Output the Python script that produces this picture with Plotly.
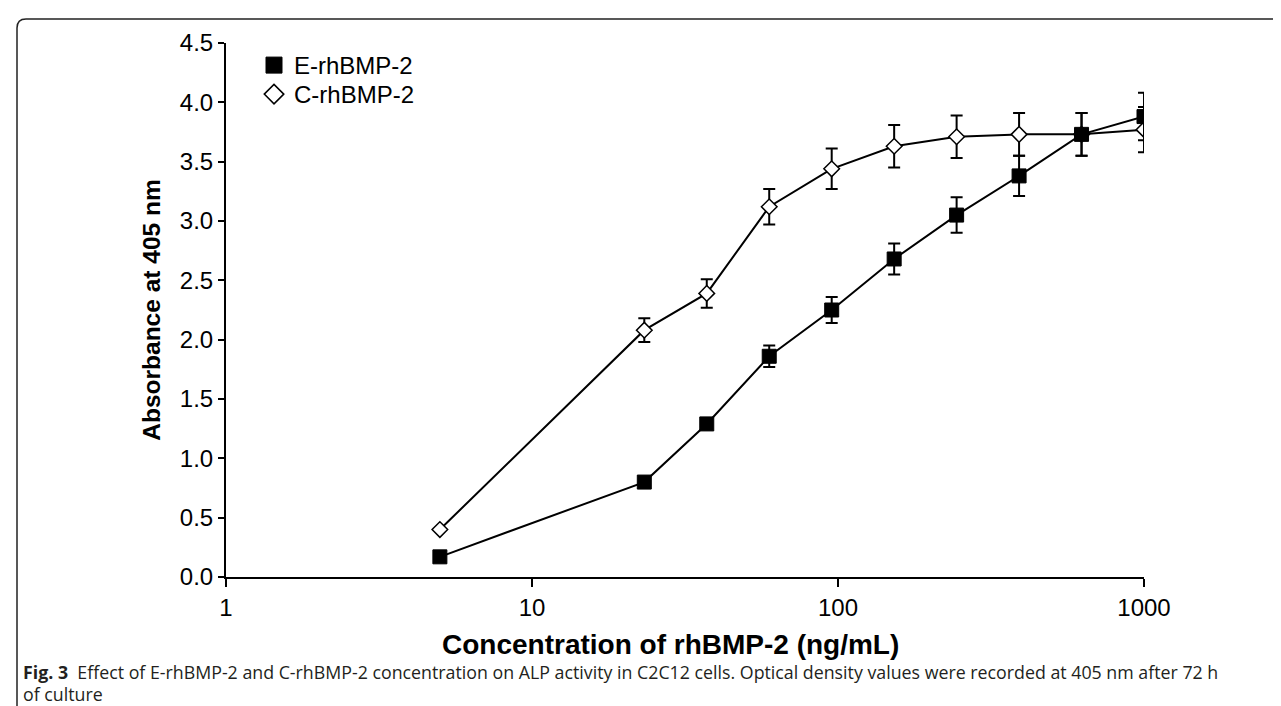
import plotly.graph_objects as go

# ---- data ----
conc = [5, 23.28, 37.25, 59.6, 95.37, 152.59, 244.14, 390.63, 625, 1000]
e_vals = [0.17, 0.80, 1.29, 1.86, 2.25, 2.68, 3.05, 3.38, 3.73, 3.88]
e_err = [0, 0, 0, 0.09, 0.11, 0.13, 0.15, 0.17, 0.18, 0.20]
c_vals = [0.40, 2.08, 2.39, 3.12, 3.44, 3.63, 3.71, 3.73, 3.73, 3.77]
c_err = [0, 0.10, 0.12, 0.15, 0.17, 0.18, 0.18, 0.18, 0.18, 0.19]
x_tick_vals = [1, 10, 100, 1000]
x_tick_text = ["1", "10", "100", "1000"]
series_names = ["E-rhBMP-2", "C-rhBMP-2"]
x_title = "Concentration of rhBMP-2 (ng/mL)"
y_title = "Absorbance at 405 nm"
caption1 = ("<b>Fig. 3</b>  Effect of E-rhBMP-2 and C-rhBMP-2 concentration on ALP activity "
            "in C2C12 cells. Optical density values were recorded at 405 nm after 72 h")
caption2 = "of culture"

W, H = 1281, 706
L, R, T, B = 218, 145, 35, 137
PW, PH = W - L - R, H - T - B


def px_x(p):
    return (p - L) / PW


def px_y(p):
    return (H - B - p) / PH


fig = go.Figure()

# C-rhBMP-2 (drawn first, underneath)
fig.add_trace(go.Scatter(
    x=conc, y=c_vals, mode="lines+markers", name=series_names[1], showlegend=False,
    line=dict(color="black", width=2),
    marker=dict(symbol="diamond", size=12, color="white", line=dict(color="black", width=1.5)),
    error_y=dict(type="data", array=c_err, visible=True, color="black", thickness=2, width=6),
))
# E-rhBMP-2
fig.add_trace(go.Scatter(
    x=conc, y=e_vals, mode="lines+markers", name=series_names[0], showlegend=False,
    line=dict(color="black", width=2),
    marker=dict(symbol="square", size=14, color="black", line=dict(color="black", width=1)),
    error_y=dict(type="data", array=e_err, visible=True, color="black", thickness=2, width=6),
))
# legend entries (markers only), one legend box per row for exact row spacing
fig.add_trace(go.Scatter(
    x=[None], y=[None], mode="markers", name=series_names[0], legend="legend",
    marker=dict(symbol="square", size=18, color="black", line=dict(color="black", width=1)),
))
fig.add_trace(go.Scatter(
    x=[None], y=[None], mode="markers", name=series_names[1], legend="legend2",
    marker=dict(symbol="diamond", size=15, color="white", line=dict(color="black", width=1.5)),
))

font_main = "Liberation Sans, Arial, sans-serif"
leg_common = dict(xanchor="left", yanchor="top", bgcolor="rgba(0,0,0,0)",
                  font=dict(size=24, family=font_main), itemsizing="trace")

fig.update_layout(
    width=W, height=H,
    margin=dict(l=L, r=R, t=T, b=B, autoexpand=False),
    paper_bgcolor="white", plot_bgcolor="white",
    font=dict(family=font_main, size=24, color="black"),
    showlegend=True,
    legend=dict(x=px_x(246), y=px_y(35), **leg_common),
    legend2=dict(x=px_x(246), y=px_y(64), **leg_common),
    xaxis=dict(
        type="log", range=[0, 3], tickvals=x_tick_vals, ticktext=x_tick_text,
        showline=True, linecolor="black", linewidth=2, ticks="outside", ticklen=8,
        tickwidth=2, tickcolor="black", showgrid=False, zeroline=False,
        tickfont=dict(size=24, family=font_main),
    ),
    yaxis=dict(
        range=[0, 4.5], dtick=0.5, tick0=0, tickformat=".1f",
        showline=True, linecolor="black", linewidth=2, ticks="outside", ticklen=6,
        tickwidth=2, tickcolor="black", showgrid=False, zeroline=False,
        tickfont=dict(size=24, family=font_main),
        title=dict(text="<b>" + y_title + "</b>", font=dict(size=24.5, family=font_main), standoff=12),
    ),
)

# x-axis title as annotation (centred slightly left of the plot centre, as in the original)
fig.add_annotation(text="<b>" + x_title + "</b>", xref="paper", yref="paper",
                   x=px_x(662), y=px_y(636), xanchor="center", yanchor="middle",
                   showarrow=False, font=dict(size=28, family=font_main, color="black"))

cap_font = dict(family="Open Sans, Noto Sans, sans-serif", size=17.8, color="#231f20")
fig.add_annotation(text=caption1, xref="paper", yref="paper", x=px_x(13), y=px_y(664),
                   xanchor="left", yanchor="middle", showarrow=False, font=cap_font, align="left")
fig.add_annotation(text=caption2, xref="paper", yref="paper", x=px_x(13), y=px_y(686),
                   xanchor="left", yanchor="middle", showarrow=False, font=cap_font, align="left")

# rounded frame (top-left corner)
x0, y0, x1, y1, r = px_x(9), px_y(720), px_x(1300), px_y(11), 9
path = (f"M {x0},{y0} L {x0},{px_y(11 + r)} "
        f"Q {x0},{y1} {px_x(9 + r)},{y1} L {x1},{y1}")
fig.add_shape(type="path", path=path, xref="paper", yref="paper",
              line=dict(color="#222222", width=1.5))

fig.write_html("out.html")
